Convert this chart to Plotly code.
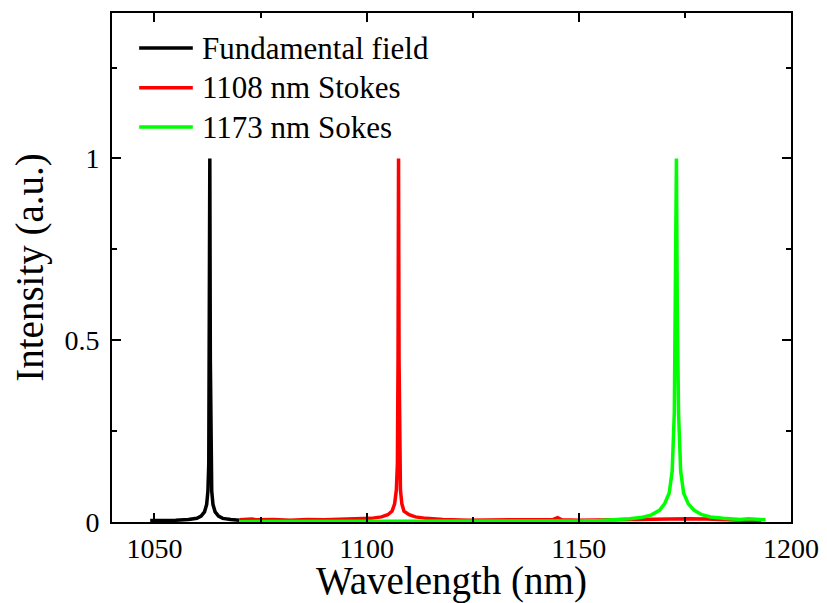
import plotly.graph_objects as go

# Fundamental field (black)
fund_wl = [1049.0, 1052.0, 1055.0, 1058.0, 1060.0, 1061.0, 1061.8, 1062.3, 1062.6,
           1062.8, 1062.92, 1063.05, 1063.17, 1063.3, 1063.5, 1063.8, 1064.3, 1065.1, 1066.1,
           1068.0, 1070.0]
fund_I = [0.004, 0.004, 0.005, 0.007, 0.010, 0.016, 0.028, 0.048, 0.085,
          0.16, 0.45, 1.0, 0.45, 0.16, 0.085, 0.048, 0.028, 0.016, 0.010,
          0.007, 0.005]

# 1108 nm Stokes (red)
s1_wl = [1070.0, 1073.0, 1074.0, 1078.0, 1082.0, 1086.0, 1090.0, 1094.0, 1098.0,
         1101.0, 1103.5, 1105.0, 1106.0, 1106.6, 1107.0, 1107.25, 1107.4, 1107.52,
         1107.64, 1107.77, 1107.97, 1108.3, 1108.8, 1110.0, 1111.5, 1114.0, 1118.0,
         1124.0, 1130.0, 1136.0, 1141.0, 1144.0, 1145.0, 1146.0, 1150.0, 1156.0,
         1160.0, 1164.0, 1168.0, 1172.0, 1176.0, 1180.0, 1184.0, 1188.0, 1193.0]
s1_I = [0.006, 0.008, 0.006, 0.007, 0.005, 0.007, 0.006, 0.007, 0.008,
        0.01, 0.014, 0.02, 0.03, 0.05, 0.088, 0.16, 0.45, 1.0,
        0.45, 0.16, 0.088, 0.05, 0.03, 0.02, 0.014, 0.01, 0.007,
        0.005, 0.006, 0.005, 0.006, 0.007, 0.012, 0.006, 0.005, 0.006,
        0.007, 0.008, 0.009, 0.01, 0.009, 0.008, 0.006, 0.004, 0.003]

# 1173 nm Stokes (green)
s2_wl = [1070.0, 1080.0, 1090.0, 1100.0, 1110.0, 1120.0, 1130.0, 1140.0, 1150.0,
         1155.0, 1159.0, 1162.0, 1165.0, 1167.0, 1169.0, 1170.2, 1171.3, 1172.0,
         1172.5, 1172.8, 1173.0, 1173.2, 1173.5, 1174.0, 1174.7, 1175.8, 1177.2,
         1179.0, 1181.0, 1184.0, 1186.0, 1188.0, 1190.0, 1192.0, 1194.0]
s2_I = [0.001, 0.001, 0.001, 0.001, 0.001, 0.001, 0.001, 0.002, 0.003,
        0.004, 0.006, 0.009, 0.013, 0.019, 0.032, 0.05, 0.08, 0.14,
        0.3, 0.6, 1.0, 0.6, 0.3, 0.14, 0.08, 0.05, 0.032,
        0.02, 0.014, 0.01, 0.009, 0.007, 0.009, 0.007, 0.006]

series_names = ["Fundamental field", "1108 nm Stokes", "1173 nm Sokes"]
series_colors = ["#000000", "#ff0000", "#00ff00"]

x_ticks = [1050, 1100, 1150, 1200]
y_ticks = [0, 0.5, 1]
y_tick_labels = ["0", "0.5", "1"]

FONT = "Liberation Serif, Times New Roman, serif"

fig = go.Figure()
for wl, inten, name, col in zip([fund_wl, s1_wl, s2_wl], [fund_I, s1_I, s2_I],
                                series_names, series_colors):
    fig.add_trace(go.Scatter(x=wl, y=inten, mode="lines", name=name, showlegend=False,
                             line=dict(color=col, width=3.5)))

# Legend drawn in paper coordinates (lines + labels)
legend_rows_y = [0.931, 0.853, 0.776]
for name, col, ly in zip(series_names, series_colors, legend_rows_y):
    fig.add_shape(type="line", xref="paper", yref="paper", x0=0.040, x1=0.119,
                  y0=ly, y1=ly, line=dict(color=col, width=3.5))
    fig.add_annotation(xref="paper", yref="paper", x=0.1295, y=ly, text=name,
                       showarrow=False, xanchor="left", yanchor="middle",
                       font=dict(family=FONT, size=31, color="black"))

axis_common = dict(
    showline=True, linecolor="black", linewidth=2, mirror="ticks",
    ticks="inside", ticklen=9, tickwidth=2, tickcolor="black",
    showgrid=False, zeroline=False, automargin=False,
    tickfont=dict(family=FONT, size=28, color="black"),
)

# page body adds an 8px offset; figure is sized to fill the rest of the window
fig.update_layout(
    width=819, height=595,
    margin=dict(l=104, r=36, t=5, b=81),
    paper_bgcolor="white", plot_bgcolor="white",
    font=dict(family=FONT, color="black"),
    xaxis=dict(range=[1040, 1200], tickvals=x_ticks,
               minor=dict(dtick=25, tick0=1050, ticks="inside", ticklen=5, tickwidth=2, tickcolor="black"),
               title=dict(text="Wavelength (nm)", font=dict(family=FONT, size=39), standoff=5),
               **axis_common),
    yaxis=dict(range=[0, 1.4], tickvals=y_ticks, ticktext=y_tick_labels,
               ticklabelstandoff=5,
               minor=dict(dtick=0.25, tick0=0, ticks="inside", ticklen=5, tickwidth=2, tickcolor="black"),
               title=dict(text="Intensity (a.u.)", font=dict(family=FONT, size=39), standoff=9),
               **axis_common),
    showlegend=False,
)

fig.write_html("out.html")
